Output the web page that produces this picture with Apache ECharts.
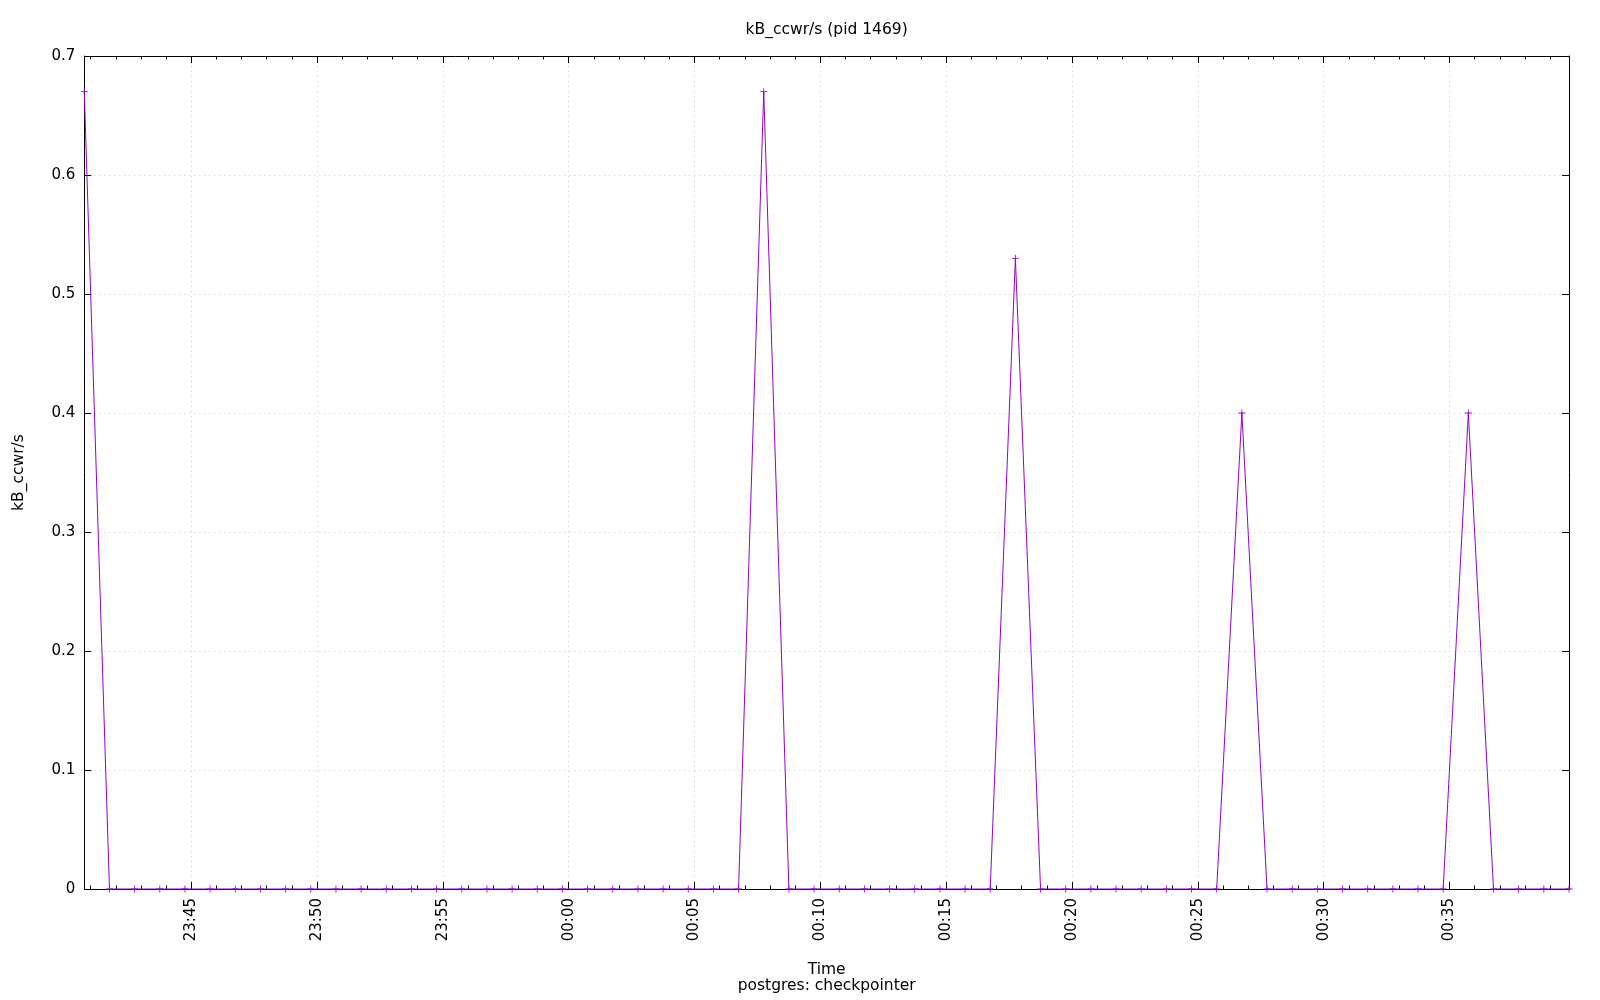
<!DOCTYPE html>
<html>
<head>
<meta charset="utf-8">
<script src="https://cdn.jsdelivr.net/npm/echarts@6/dist/echarts.min.js"></script>
<style>html,body{margin:0;padding:0;background:#fff}#c{width:1600px;height:1000px}</style>
</head>
<body>
<div id="c"></div>
<script>
const chartTitle = 'kB_ccwr/s (pid 1469)';
const yName = 'kB_ccwr/s';
const xNameLines = ['Time', 'postgres: checkpointer'];
const times = [
  '23:40:45','23:41:45','23:42:45','23:43:45','23:44:45','23:45:45','23:46:45','23:47:45','23:48:45','23:49:45',
  '23:50:45','23:51:45','23:52:45','23:53:45','23:54:45','23:55:45','23:56:45','23:57:45','23:58:45','23:59:45',
  '00:00:45','00:01:45','00:02:45','00:03:45','00:04:45','00:05:45','00:06:45','00:07:45','00:08:45','00:09:45',
  '00:10:45','00:11:45','00:12:45','00:13:45','00:14:45','00:15:45','00:16:45','00:17:45','00:18:45','00:19:45',
  '00:20:45','00:21:45','00:22:45','00:23:45','00:24:45','00:25:45','00:26:45','00:27:45','00:28:45','00:29:45',
  '00:30:45','00:31:45','00:32:45','00:33:45','00:34:45','00:35:45','00:36:45','00:37:45','00:38:45','00:39:45'
];
const values = [
  0.67,0,0,0,0,0,0,0,0,0,
  0,0,0,0,0,0,0,0,0,0,
  0,0,0,0,0,0,0,0.67,0,0,
  0,0,0,0,0,0,0,0.53,0,0,
  0,0,0,0,0,0,0.40,0,0,0,
  0,0,0,0,0,0.40,0,0,0,0
];
const yTicks = [0, 0.1, 0.2, 0.3, 0.4, 0.5, 0.6, 0.7];

// x is expressed as minutes since 23:00 of the first day
function toMin(s) {
  const p = s.split(':').map(Number);
  const h = p[0] >= 12 ? p[0] - 23 : p[0] + 1;
  return h * 60 + p[1] + p[2] / 60;
}
function fmtMin(v) {
  const tot = Math.round(v);
  const h = (23 + Math.floor(tot / 60)) % 24;
  const m = ((tot % 60) + 60) % 60;
  return String(h).padStart(2, '0') + ':' + String(m).padStart(2, '0');
}
const xs = times.map(toMin);
const data = xs.map((x, i) => [x, values[i]]);
const xmin = xs[0], xmax = xs[xs.length - 1];
const FONT = 'DejaVu Sans';
const FS = 15.5;   // titles
const TFS = 15;    // tick labels
const GL = 84.3, GR = 31, GT = 56, GB = 111;
const cx = (GL + (1600 - GR)) / 2;

function xAx(pos, withLabels) {
  return {
    type: 'value', position: pos, min: xmin, max: xmax, splitNumber: 12,
    axisLine: { show: true, onZero: false, lineStyle: { color: '#000', width: 1 } },
    axisTick: { show: true, inside: true, length: 7, lineStyle: { color: '#000', width: 1 } },
    minorTick: { show: true, splitNumber: 5, length: 3.5, lineStyle: { color: '#000', width: 1 } },
    axisLabel: withLabels ? { show: true, rotate: 90, formatter: fmtMin, margin: 9,
        showMinLabel: false, showMaxLabel: false,
        fontFamily: FONT, fontSize: TFS, color: '#000' } : { show: false },
    splitLine: withLabels ? { show: true, lineStyle: { color: '#c8c8c8', type: [1, 4], width: 1 } } : { show: false },
    minorSplitLine: { show: false }
  };
}
function txt(t, y) {
  return { type: 'text', x: cx, y: y, style: { text: t, align: 'center', verticalAlign: 'middle',
    fontFamily: FONT, fontSize: FS, fill: '#000' } };
}

const chart = echarts.init(document.getElementById('c'), null, { renderer: 'canvas' });
chart.setOption({
  animation: false,
  backgroundColor: '#fff',
  textStyle: { fontFamily: FONT },
  graphic: [ txt(chartTitle, 30), txt(xNameLines[0], 969.5), txt(xNameLines[1], 985.5) ],
  grid: { left: GL, right: GR, top: GT, bottom: GB, containLabel: false },
  xAxis: [ xAx('bottom', true), xAx('top', false) ],
  yAxis: [
    { type: 'value', position: 'left', min: yTicks[0], max: yTicks[yTicks.length - 1], interval: 0.1,
      name: yName, nameLocation: 'middle', nameGap: 57, nameRotate: 90,
      nameTextStyle: { fontFamily: FONT, fontSize: FS, color: '#000' },
      axisLine: { show: true, lineStyle: { color: '#000', width: 1 } },
      axisTick: { show: true, inside: true, length: 7, lineStyle: { color: '#000' } },
      axisLabel: { margin: 9, fontFamily: FONT, fontSize: TFS, color: '#000',
        formatter: v => String(Math.round(v * 10) / 10) },
      splitLine: { show: true, lineStyle: { color: '#c8c8c8', type: [1, 4], width: 1 } }
    },
    { type: 'value', position: 'right', min: yTicks[0], max: yTicks[yTicks.length - 1], interval: 0.1,
      axisLine: { show: true, lineStyle: { color: '#000', width: 1 } },
      axisTick: { show: true, inside: true, length: 7, lineStyle: { color: '#000' } },
      axisLabel: { show: false },
      splitLine: { show: false }
    }
  ],
  series: [{
    type: 'line', xAxisIndex: 0, yAxisIndex: 0, data: data,
    symbol: 'path://M0,4.4H10V5.6H0Z M4.4,0H5.6V10H4.4Z', symbolSize: 7, showAllSymbol: true,
    lineStyle: { color: '#9400d3', width: 1 },
    itemStyle: { color: '#9400d3' },
    clip: false
  }]
});
</script>
</body>
</html>
